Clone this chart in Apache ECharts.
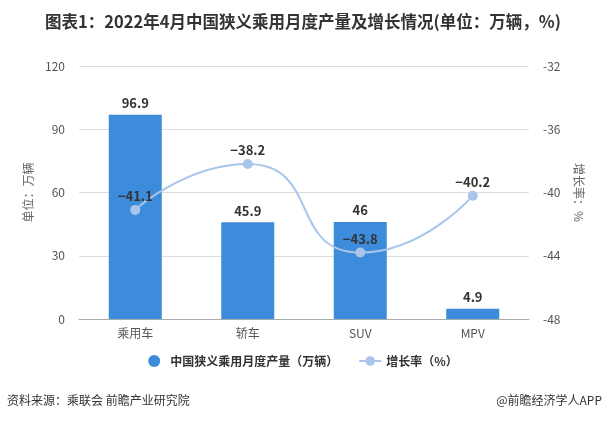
<!DOCTYPE html>
<html><head><meta charset="utf-8">
<script src="https://cdn.jsdelivr.net/npm/echarts@6/dist/echarts.min.js"></script>
<style>html,body{margin:0;padding:0;background:#fff}#c{width:606px;height:422px}</style>
</head><body><div id="c"></div>
<script>
const categories = ['乘用车','轿车','SUV','MPV'];
const production = [96.9, 45.9, 46, 4.9];
const growth = [-41.1, -38.2, -43.8, -40.2];
const leftTicks = {min:0, max:120, interval:30};
const rightTicks = {min:-48, max:-32, interval:4};

const chart = echarts.init(document.getElementById('c'), null, {renderer:'canvas'});
const font = '"Microsoft YaHei","Noto Sans CJK SC",sans-serif';
chart.setOption({
  backgroundColor:'#fff',
  textStyle:{fontFamily:font},
  title:{
    text:'图表1：2022年4月中国狭义乘用月度产量及增长情况(单位：万辆，%)',
    left:'center', top:8,
    textStyle:{fontSize:16.5, fontWeight:'bold', color:'#333', fontFamily:font}
  },
  graphic:[
    {type:'text', left:7, top:394, style:{text:'资料来源：乘联会 前瞻产业研究院', fontSize:12, fill:'#333', fontFamily:font}},
    {type:'text', right:4, top:394, style:{text:'@前瞻经济学人APP', fontSize:12, fill:'#333', fontFamily:font}}
  ],
  legend:{
    bottom:50, left:'center', itemGap:20, itemWidth:22, itemHeight:12,
    textStyle:{fontSize:12, color:'#333', fontWeight:'bold', fontFamily:font},
    data:[{name:'中国狭义乘用月度产量（万辆）', icon:'circle'},{name:'增长率（%）'}]
  },
  grid:{left:79, right:77, top:66, bottom:103},
  xAxis:{
    type:'category', data:categories,
    axisLine:{lineStyle:{color:'#aaa'}},
    axisTick:{alignWithLabel:true, lineStyle:{color:'#aaa'}},
    axisLabel:{color:'#555', fontSize:12, margin:8}
  },
  yAxis:[
    {type:'value', min:leftTicks.min, max:leftTicks.max, interval:leftTicks.interval,
     name:'单位：万辆', nameLocation:'middle', nameGap:44,
     nameTextStyle:{color:'#666', fontSize:12},
     axisLine:{show:false}, axisTick:{show:false},
     axisLabel:{color:'#555', fontSize:12, margin:14},
     splitLine:{lineStyle:{color:'#ddd'}}},
    {type:'value', min:rightTicks.min, max:rightTicks.max, interval:rightTicks.interval,
     name:'增长率：%', nameLocation:'middle', nameGap:44, nameRotate:-90,
     nameTextStyle:{color:'#666', fontSize:12},
     axisLine:{show:false}, axisTick:{show:false},
     axisLabel:{color:'#555', fontSize:12, margin:14},
     splitLine:{show:false}}
  ],
  series:[
    {name:'中国狭义乘用月度产量（万辆）', type:'bar', data:production, barWidth:53,
     itemStyle:{color:'#3d8bdb'},
     label:{show:true, position:'top', distance:5, color:'#333', fontWeight:'bold', fontSize:13}},
    {name:'增长率（%）', type:'line', yAxisIndex:1, data:growth, smooth:0.6,
     symbol:'circle', symbolSize:10,
     lineStyle:{color:'#a9c6ea', width:2}, itemStyle:{color:'#a9c6ea'},
     label:{show:true, position:'top', distance:2, color:'#333', fontWeight:'bold', fontSize:13,
       formatter:p=>String(p.value).replace('-','−')}}
  ]
});
</script></body></html>
